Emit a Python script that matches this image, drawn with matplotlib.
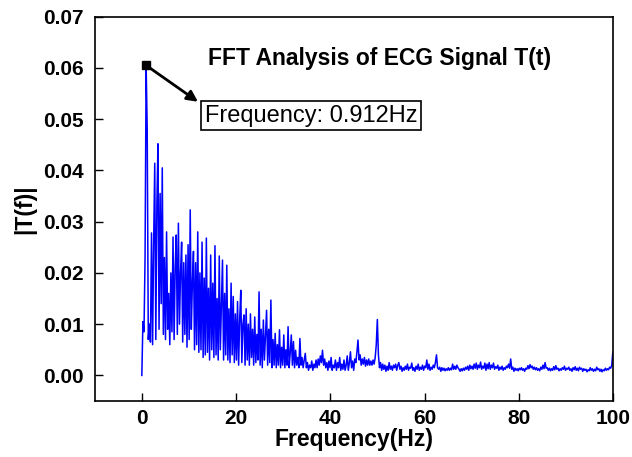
#!/usr/bin/env python3
"""
ECG 信号 T(t) 的 FFT 幅度谱
"""

import numpy as np
import matplotlib
matplotlib.use('Agg')
import matplotlib.pyplot as plt

# ─── 数据（幅值单位 1e-3，频率分辨率 0.228 Hz） ─────────────────────────────
DF = 0.228
PEAK_FREQ = 0.912
PEAK_AMP = 0.0605

amp_00_10 = [0, 10.5, 8.5, 23, 60.5, 48, 7, 10, 6.5, 27.8, 6, 26, 41.4, 7, 33.6, 45.2,
             9, 35.5, 14, 40.5, 8, 23, 7, 28, 9, 16, 6, 20, 8.5, 27, 7, 21, 27.4, 8,
             29.7, 10, 20, 26, 6.5, 22, 8, 23.5, 5.5, 25.5]
amp_10_20 = [7, 32.3, 9, 18, 24.2, 5, 22, 6, 28, 4.5, 20, 5, 26, 3.5, 19, 4, 26.8, 4.5,
             17, 3, 23.5, 5, 18, 3.5, 25.3, 4, 15, 3, 23.3, 5, 14, 22.5, 3, 16, 4, 21.5,
             3, 13, 2.5, 18, 4, 15.4, 2.5, 12]
amp_20_30 = [3, 14.4, 2, 11, 16.6, 2.5, 10, 11.8, 2, 13, 3, 10, 2, 12, 3.5, 9, 2, 11.4,
             2.5, 8, 3, 16.3, 2, 9, 1.5, 10.8, 3, 8, 12.7, 2, 9, 2.5, 14.7, 1.5, 7, 2,
             8.2, 1.5, 6, 2, 8.9, 1.5, 5.5, 2]
amp_30_40 = [7.9, 1.5, 5, 2, 9.5, 1.5, 4.5, 7.9, 2, 6.6, 1.5, 4.9, 2, 3.5, 1.5, 7.2, 2,
             3.5, 1.5, 3, 4.3, 1.5, 2.5, 1, 2, 1.5, 2.8, 1, 2.2, 1.5, 3, 1.5, 3.2, 2,
             3.8, 2.5, 4.9, 2, 3.2, 1.5, 2.5, 1, 2.8, 1.5]
amp_40_50 = [3.5, 1, 2, 1.5, 3, 1, 2.5, 1.5, 3.5, 1, 2.2, 1.2, 3, 1, 2, 3.8, 1, 2.5, 4.6,
             1.5, 2.8, 1, 3.2, 2.5, 4.5, 6.9, 3, 4, 2, 3.2, 2.2, 3.5, 1.8, 3, 2, 3.2, 2,
             2.8, 2, 3, 2.2, 3.5, 6, 10.9]
amp_50_60 = [4, 1.5, 2.5, 1, 2.2, 1.2, 2, 0.8, 1.8, 1, 2.5, 1.2, 1.8, 1, 2, 1.5, 2.2, 1,
             2, 2.5, 1.2, 1.8, 0.8, 1.5, 1, 1.8, 1.2, 2.2, 1, 1.6, 1.4, 2.4, 1, 1.5, 0.8,
             1.8, 1.2, 2.2, 1, 1.6, 1.2, 2, 1, 1.8]
amp_60_70 = [1.5, 3, 1.2, 2.2, 1, 1.6, 1.2, 2, 1.5, 2.5, 4, 1.5, 1.2, 1.6, 0.8, 1.5, 1,
             1.4, 0.9, 1.3, 1, 1.5, 1, 1.4, 1.1, 2.2, 1.2, 1.8, 1.2, 2, 1.5, 1.2, 0.8,
             1.3, 0.9, 1.4, 1, 1.6, 1.2, 1.8, 1, 2, 1.3, 1.8]
amp_70_80 = [1.2, 2.2, 1.4, 2.4, 1.2, 2, 1.5, 2.6, 1.2, 1.8, 1.4, 2.4, 1, 2.2, 1.3, 2.5,
             1.2, 2, 1.5, 2.4, 1.2, 1.7, 1.4, 2, 1, 1.6, 1.2, 1.8, 1, 1.5, 1.2, 1.8, 1.5,
             2.2, 1.4, 3.2, 1.2, 1.6, 0.8, 1.4, 1, 1.3, 0.9, 1.4]
amp_80_90 = [1.1, 1.5, 1, 1.3, 0.8, 1.4, 1.2, 1.9, 1.3, 2.1, 1.5, 1.8, 1.2, 1.6, 1.1, 1.5,
             1, 1.3, 0.9, 1.6, 1.2, 2, 1.3, 2.5, 1.4, 1.5, 1, 1.4, 0.9, 1.3, 1, 1.7, 1.1,
             1.9, 1.2, 1.4, 0.9, 1.3, 1, 1.5, 1.2, 1.8, 1, 1.4]
amp_90_100 = [1.2, 1.6, 1, 1.3, 0.8, 1.5, 1.1, 1.7, 1, 1.4, 0.9, 1.6, 1.2, 1.4, 0.8, 1.3,
              1, 1.2, 0.7, 1.1, 0.9, 1.5, 1, 1.3, 0.8, 1.2, 0.9, 1.6, 1.1, 1.3, 0.8, 1.2,
              0.7, 1.1, 0.9, 1.4, 1, 1.3, 1.1, 1.6, 1.4, 2, 4.6, 2]

X_TICKS = [0, 20, 40, 60, 80, 100]
Y_TICKS = [0.00, 0.01, 0.02, 0.03, 0.04, 0.05, 0.06, 0.07]

# ─── 组装 ───────────────────────────────────────────────────────────────────
amp = np.array(amp_00_10 + amp_10_20 + amp_20_30 + amp_30_40 + amp_40_50 +
               amp_50_60 + amp_60_70 + amp_70_80 + amp_80_90 + amp_90_100) * 1e-3
freq = np.arange(len(amp)) * DF

FONT = 'Liberation Sans'
plt.rcParams['font.family'] = FONT

fig = plt.figure(figsize=(6.32, 4.57), dpi=100)
ax = fig.add_axes([0.1498, 0.1225, 0.8209, 0.841])

ax.plot(freq, amp, color='#0000FF', linewidth=1.1)

ax.set_xlim(-10, 100)
ax.set_ylim(-0.005, 0.07)
ax.set_xticks(X_TICKS)
ax.set_yticks(Y_TICKS)
ax.set_yticklabels([f'{v:.2f}' for v in Y_TICKS])

for sp in ax.spines.values():
    sp.set_linewidth(1.2)
ax.tick_params(direction='in', length=5.5, width=1.0, labelsize=15, top=False, right=False)
ax.tick_params(axis='x', pad=6)
ax.tick_params(axis='y', pad=8)
for lbl in ax.get_xticklabels() + ax.get_yticklabels():
    lbl.set_fontweight('bold')

ax.set_xlabel('Frequency(Hz)', fontsize=16.5, fontweight='bold', labelpad=0)
ax.set_ylabel('|T(f)|', fontsize=16.5, fontweight='bold', labelpad=5)

# 标题放在坐标区内
ax.text(50.4, 0.0606, 'FFT Analysis of ECG Signal T(t)', ha='center', va='baseline',
        fontsize=16.5, fontweight='bold')

# 峰值标记 + 箭头 + 标注框
ax.plot([PEAK_FREQ], [PEAK_AMP], marker='s', color='black', markersize=6, zorder=5)
ax.annotate('', xy=(11.9, 0.0534), xytext=(PEAK_FREQ, PEAK_AMP),
            arrowprops=dict(arrowstyle='-|>', color='black', lw=2.0,
                            mutation_scale=16, shrinkA=0, shrinkB=0))
ax.text(13.3, 0.0495, f'Frequency: {PEAK_FREQ}Hz', ha='left', va='baseline', fontsize=17,
        bbox=dict(boxstyle='square,pad=0.15', facecolor='white', edgecolor='black', linewidth=1.2))

fig.savefig('out.png', dpi=100)
